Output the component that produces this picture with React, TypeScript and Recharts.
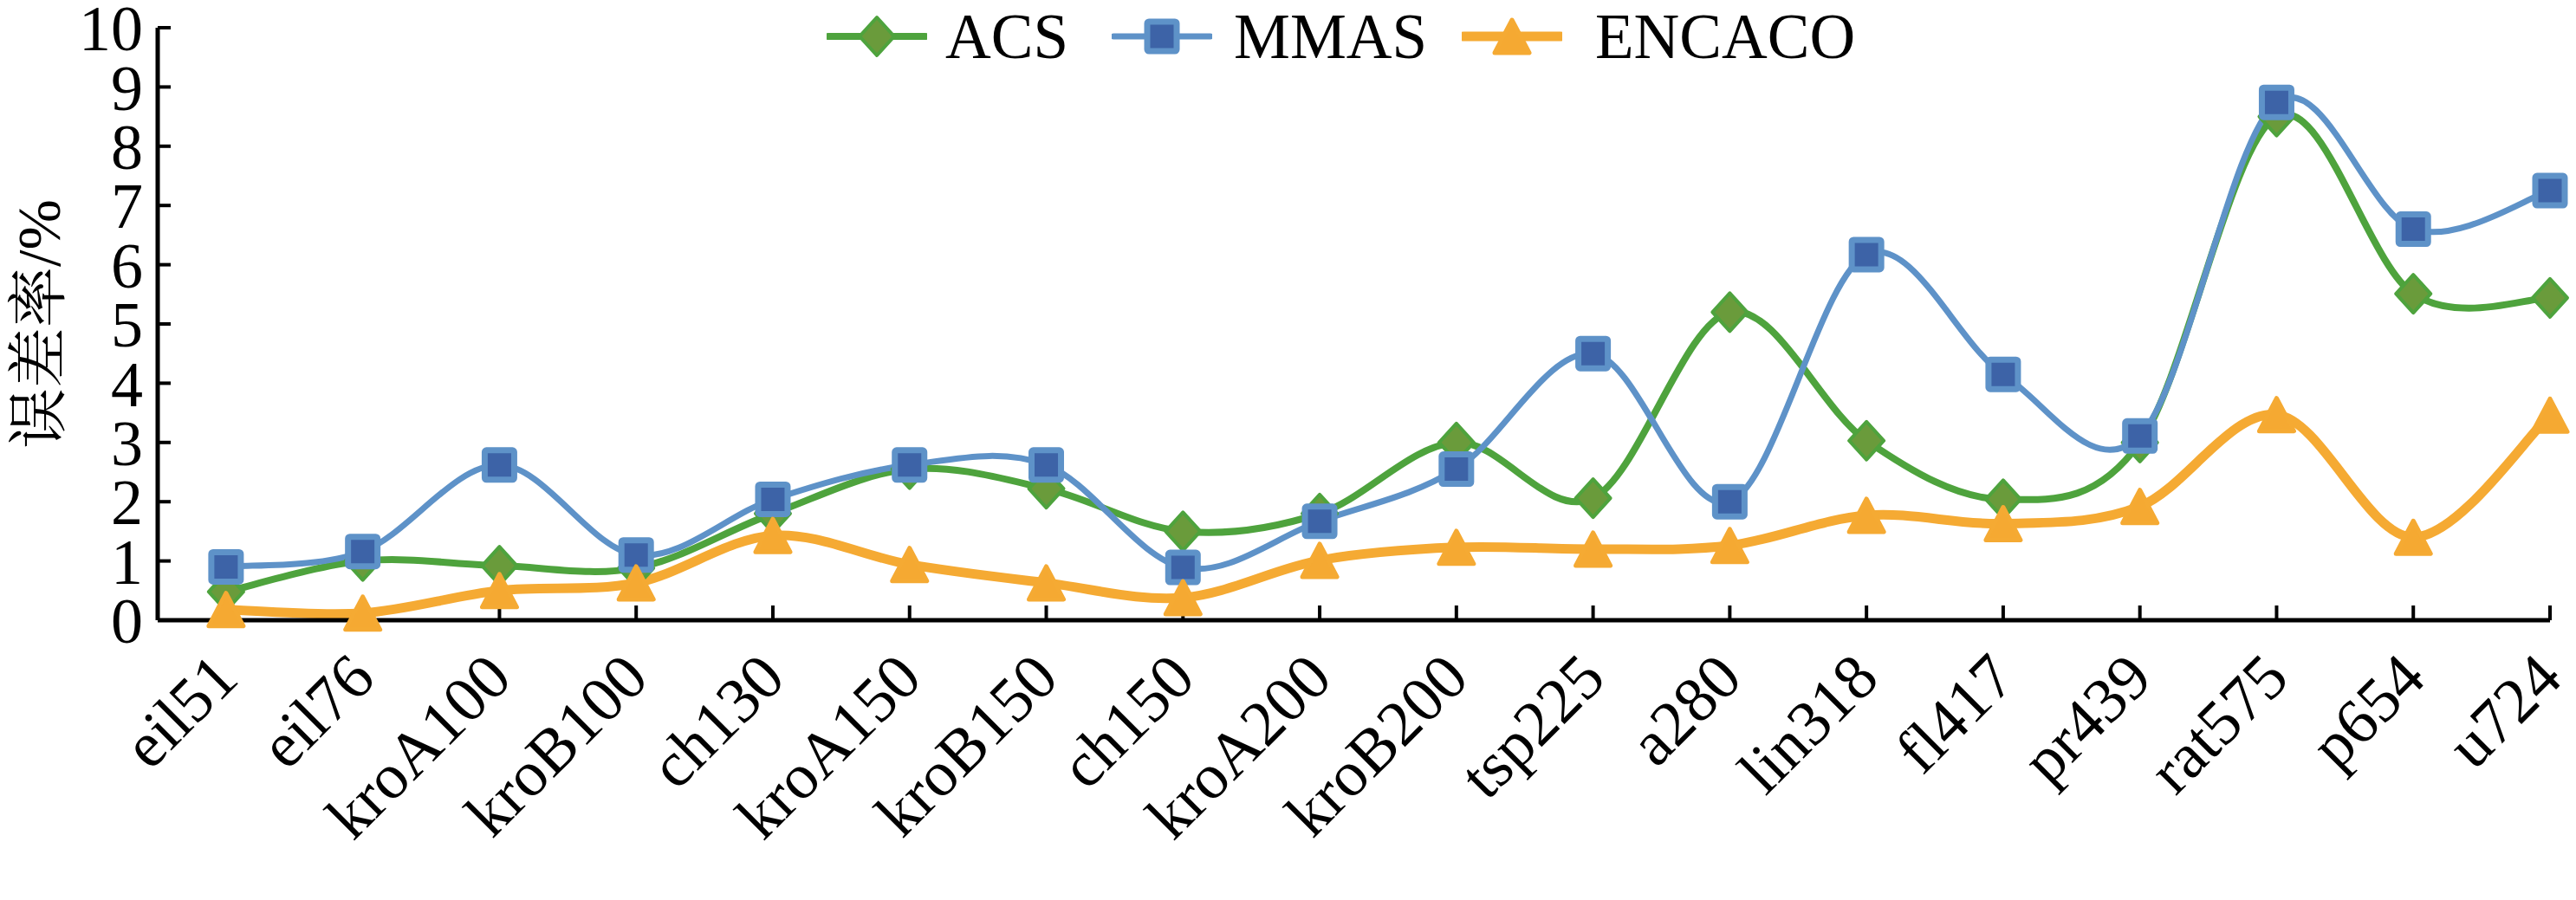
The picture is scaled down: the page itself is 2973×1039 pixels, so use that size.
import React from 'react';
import { LineChart, Line, XAxis, YAxis, Legend, Label } from 'recharts';

const categories = ['eil51', 'eil76', 'kroA100', 'kroB100', 'ch130', 'kroA150', 'kroB150', 'ch150', 'kroA200', 'kroB200', 'tsp225', 'a280', 'lin318', 'fl417', 'pr439', 'rat575', 'p654', 'u724'];
const acsValues = [0.48, 1.0, 0.92, 0.88, 1.8, 2.55, 2.22, 1.5, 1.8, 3.0, 2.06, 5.2, 3.03, 2.04, 3.0, 8.5, 5.51, 5.44];
const mmasValues = [0.9, 1.16, 2.62, 1.1, 2.04, 2.62, 2.62, 0.89, 1.67, 2.55, 4.5, 2.0, 6.17, 4.15, 3.11, 8.74, 6.6, 7.25];
const encacoValues = [0.18, 0.12, 0.5, 0.63, 1.43, 0.94, 0.63, 0.38, 1.01, 1.23, 1.2, 1.26, 1.77, 1.63, 1.92, 3.47, 1.4, 3.46];
const yTicks = [0, 1, 2, 3, 4, 5, 6, 7, 8, 9, 10];
const seriesNames = ['ACS', 'MMAS', 'ENCACO'];

const data = categories.map((name, i) => ({
  idx: i,
  name,
  ACS: acsValues[i],
  MMAS: mmasValues[i],
  ENCACO: encacoValues[i],
}));
const xTicks = categories.map((_, i) => i);

const SERIF = "'Liberation Serif', 'Times New Roman', serif";
const CJK = "'Liberation Serif', 'Noto Serif CJK SC', 'Noto Sans CJK SC', serif";

const COLORS = {
  ACS: { line: '#4EA33D', fill: '#6A9B3B' },
  MMAS: { line: '#5E92C8', fill: '#3D63A7' },
  ENCACO: { line: '#F5AA33', fill: '#F5A932' },
};

// Excel-like smoothed curve (uniform Catmull-Rom as cubic Bezier)
const smoothCurve: any = (context: any) => {
  let pts: number[][] = [];
  return {
    areaStart() {},
    areaEnd() {},
    lineStart() {
      pts = [];
    },
    lineEnd() {
      const n = pts.length;
      if (n === 0) return;
      context.moveTo(pts[0][0], pts[0][1]);
      if (n === 1) return;
      for (let i = 0; i < n - 1; i++) {
        const p0 = pts[i - 1] || pts[i];
        const p1 = pts[i];
        const p2 = pts[i + 1];
        const p3 = pts[i + 2] || p2;
        const c1x = p1[0] + (p2[0] - p0[0]) / 6;
        const c1y = p1[1] + (p2[1] - p0[1]) / 6;
        const c2x = p2[0] - (p3[0] - p1[0]) / 6;
        const c2y = p2[1] - (p3[1] - p1[1]) / 6;
        context.bezierCurveTo(c1x, c1y, c2x, c2y, p2[0], p2[1]);
      }
    },
    point(x: number, y: number) {
      pts.push([+x, +y]);
    },
  };
};

const Diamond = ({ cx, cy }: { cx: number; cy: number }) => (
  <polygon
    points={`${cx},${cy - 22} ${cx + 20},${cy} ${cx},${cy + 22} ${cx - 20},${cy}`}
    fill={COLORS.ACS.fill}
    stroke={COLORS.ACS.line}
    strokeWidth={4}
    strokeLinejoin="round"
  />
);

const Square = ({ cx, cy }: { cx: number; cy: number }) => (
  <rect x={cx - 17} y={cy - 17} width={34} height={34} fill={COLORS.MMAS.fill} stroke={COLORS.MMAS.line} strokeWidth={7} rx={2} />
);

const Triangle = ({ cx, cy }: { cx: number; cy: number }) => (
  <polygon
    points={`${cx},${cy - 19} ${cx + 20},${cy + 19} ${cx - 20},${cy + 19}`}
    fill={COLORS.ENCACO.fill}
    stroke={COLORS.ENCACO.line}
    strokeWidth={5}
    strokeLinejoin="round"
  />
);

const makeDot = (Shape: any) => (props: any) => {
  const { cx, cy, index } = props;
  if (cx == null || cy == null) return <g key={index} />;
  return (
    <g key={index}>
      <Shape cx={cx} cy={cy} />
    </g>
  );
};

const XTick = (props: any) => {
  const { x, y, payload } = props;
  const ax = x + 17;
  const ay = y + 70;
  return (
    <text x={ax} y={ay} transform={`rotate(-45 ${ax} ${ay})`} textAnchor="end" fontSize={74} fontFamily={SERIF} fill="#000">
      {categories[payload.value]}
    </text>
  );
};

const renderYLabel = (props: any) => {
  const vb = props.viewBox || { x: 0, y: 32, width: 182, height: 684 };
  const cx = 45;
  const cy = vb.y + vb.height / 2;
  return (
    <text x={cx} y={cy} transform={`rotate(-90 ${cx} ${cy})`} textAnchor="middle" dominantBaseline="central" fontSize={70} fontFamily={CJK} fill="#000">
      误差率/%
    </text>
  );
};

const legendLayout = [
  { name: seriesNames[0], icon: 954, text: 1091, Shape: Diamond, color: COLORS.ACS.line, sw: 8 },
  { name: seriesNames[1], icon: 1283, text: 1424, Shape: Square, color: COLORS.MMAS.line, sw: 7 },
  { name: seriesNames[2], icon: 1687, text: 1841, Shape: Triangle, color: COLORS.ENCACO.line, sw: 11 },
];

const renderLegend = () => (
  <div style={{ position: 'relative', width: 2973, height: 90 }}>
    {legendLayout.map((it) => (
      <React.Fragment key={it.name}>
        <svg style={{ position: 'absolute', left: it.icon, top: 12 }} width={116} height={60}>
          <line x1={2} y1={30} x2={114} y2={30} stroke={it.color} strokeWidth={it.sw} strokeLinecap="round" />
          <it.Shape cx={58} cy={30} />
        </svg>
        <span
          style={{
            position: 'absolute',
            left: it.text,
            top: 6,
            fontSize: 73,
            lineHeight: '73px',
            fontFamily: SERIF,
            color: '#000',
            whiteSpace: 'nowrap',
          }}
        >
          {it.name}
        </span>
      </React.Fragment>
    ))}
  </div>
);

export default function App() {
  return (
    <div style={{ position: 'absolute', left: 0, top: 0, width: 2973, height: 1039, background: '#fff' }}>
      <LineChart width={2973} height={1039} data={data} margin={{ top: 32, right: 30, bottom: 0, left: 0 }}>
        <XAxis
          dataKey="idx"
          type="number"
          domain={[-0.5, 17]}
          ticks={xTicks}
          interval={0}
          height={323}
          tickSize={-17}
          tickMargin={17}
          axisLine={{ stroke: '#000', strokeWidth: 5 }}
          tickLine={{ stroke: '#000', strokeWidth: 4 }}
          tick={<XTick />}
        />
        <YAxis
          type="number"
          domain={[0, 10]}
          ticks={yTicks}
          interval={0}
          width={182}
          tickSize={-15}
          tickMargin={32}
          axisLine={{ stroke: '#000', strokeWidth: 5 }}
          tickLine={{ stroke: '#000', strokeWidth: 4 }}
          tick={{ fontSize: 74, fill: '#000', fontFamily: SERIF }}
          label={<Label content={renderYLabel} />}
        />
        <Legend verticalAlign="middle" align="center" layout="horizontal" wrapperStyle={{ left: 0, top: 0, width: 2973, height: 90 }} content={renderLegend} />
        <Line
          name={seriesNames[0]}
          dataKey="ACS"
          type={smoothCurve}
          stroke={COLORS.ACS.line}
          strokeWidth={8}
          dot={makeDot(Diamond)}
          activeDot={false}
          isAnimationActive={false}
        />
        <Line
          name={seriesNames[1]}
          dataKey="MMAS"
          type={smoothCurve}
          stroke={COLORS.MMAS.line}
          strokeWidth={7}
          dot={makeDot(Square)}
          activeDot={false}
          isAnimationActive={false}
        />
        <Line
          name={seriesNames[2]}
          dataKey="ENCACO"
          type={smoothCurve}
          stroke={COLORS.ENCACO.line}
          strokeWidth={11}
          dot={makeDot(Triangle)}
          activeDot={false}
          isAnimationActive={false}
        />
      </LineChart>
    </div>
  );
}
